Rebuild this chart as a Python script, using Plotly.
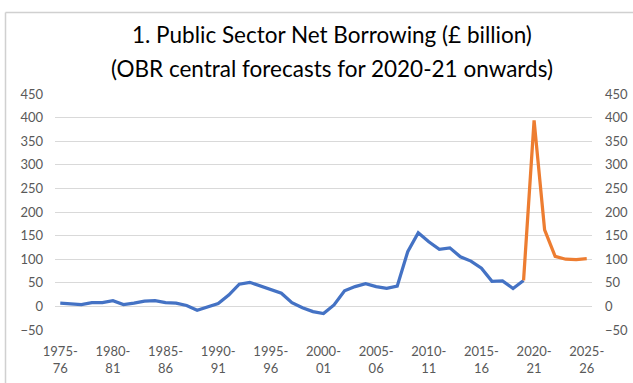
import plotly.graph_objects as go

years = [f"{y}-{str(y + 1)[-2:]}" for y in range(1975, 2026)]

actual = [7, 5, 4, 8, 8, 12, 4, 7, 11, 12, 8, 7, 2, -8, -1, 6, 24, 47, 51, 43,
          35, 28, 8, -3, -11, -15, 3, 33, 42, 48, 42, 38, 43, 116, 156, 137, 121,
          124, 105, 96, 81, 53, 54, 38, 55]
forecast = [55, 394, 162, 106, 100, 99, 101]

title_lines = ["1. Public Sector Net Borrowing (£ billion)",
               "(OBR central forecasts for 2020-21 onwards)"]

tick_years = years[::5]
tick_text = [f"{t[:5]}<br>{t[5:]}" for t in tick_years]
y_ticks = list(range(-50, 451, 50))

FONT = "Lato, Carlito, Calibri, sans-serif"

fig = go.Figure()
fig.add_trace(go.Scatter(x=years[:len(actual)], y=actual, mode="lines",
                         line=dict(color="#4472C4", width=3.25), showlegend=False))
fig.add_trace(go.Scatter(x=years[len(actual) - 1:], y=forecast, mode="lines",
                         line=dict(color="#ED7D31", width=3.25), showlegend=False,
                         yaxis="y2"))

annotations = []
for txt, ypx in zip(title_lines, [34.5, 68.5]):
    annotations.append(dict(text=txt, xref="paper", yref="paper",
                            x=(332 - 55) / 537, y=(330 - ypx) / 236,
                            xanchor="center", yanchor="middle", showarrow=False,
                            font=dict(family=FONT, size=22.5, color="#000000")))

border = "#D0D0D0"
fig.update_layout(
    width=633, height=383,
    margin=dict(l=55, r=41, t=94, b=53, autoexpand=False),
    paper_bgcolor="white", plot_bgcolor="white",
    font=dict(family=FONT, color="#595959", size=13),
    annotations=annotations,
    xaxis=dict(type="category", categoryorder="array", categoryarray=years,
               tickmode="array", tickvals=tick_years, ticktext=tick_text,
               showgrid=False, showline=False, zeroline=False, ticks="",
               range=[-0.5, len(years) - 0.5], tickangle=0,
               ticklabelstandoff=12, automargin=False),
    yaxis=dict(range=[-50, 450], tickvals=y_ticks, showgrid=True,
               gridcolor="#D9D9D9", gridwidth=1, zeroline=False, showline=False,
               ticks="", ticklabelstandoff=11, automargin=False),
    yaxis2=dict(range=[-50, 450], tickvals=y_ticks, overlaying="y", side="right",
                showgrid=False, zeroline=False, showline=False,
                ticks="", ticklabelstandoff=12, automargin=False),
    shapes=[
        dict(type="line", xref="paper", yref="paper",
             x0=(5.5 - 55) / 537, x1=(5.5 - 55) / 537,
             y0=(330 - 383) / 236, y1=(330 - 12.5) / 236,
             line=dict(color=border, width=1.5), layer="above"),
        dict(type="line", xref="paper", yref="paper",
             x0=(5.5 - 55) / 537, x1=(633 - 55) / 537,
             y0=(330 - 12.5) / 236, y1=(330 - 12.5) / 236,
             line=dict(color=border, width=1.5), layer="above"),
    ],
)

fig.write_html("out.html")
